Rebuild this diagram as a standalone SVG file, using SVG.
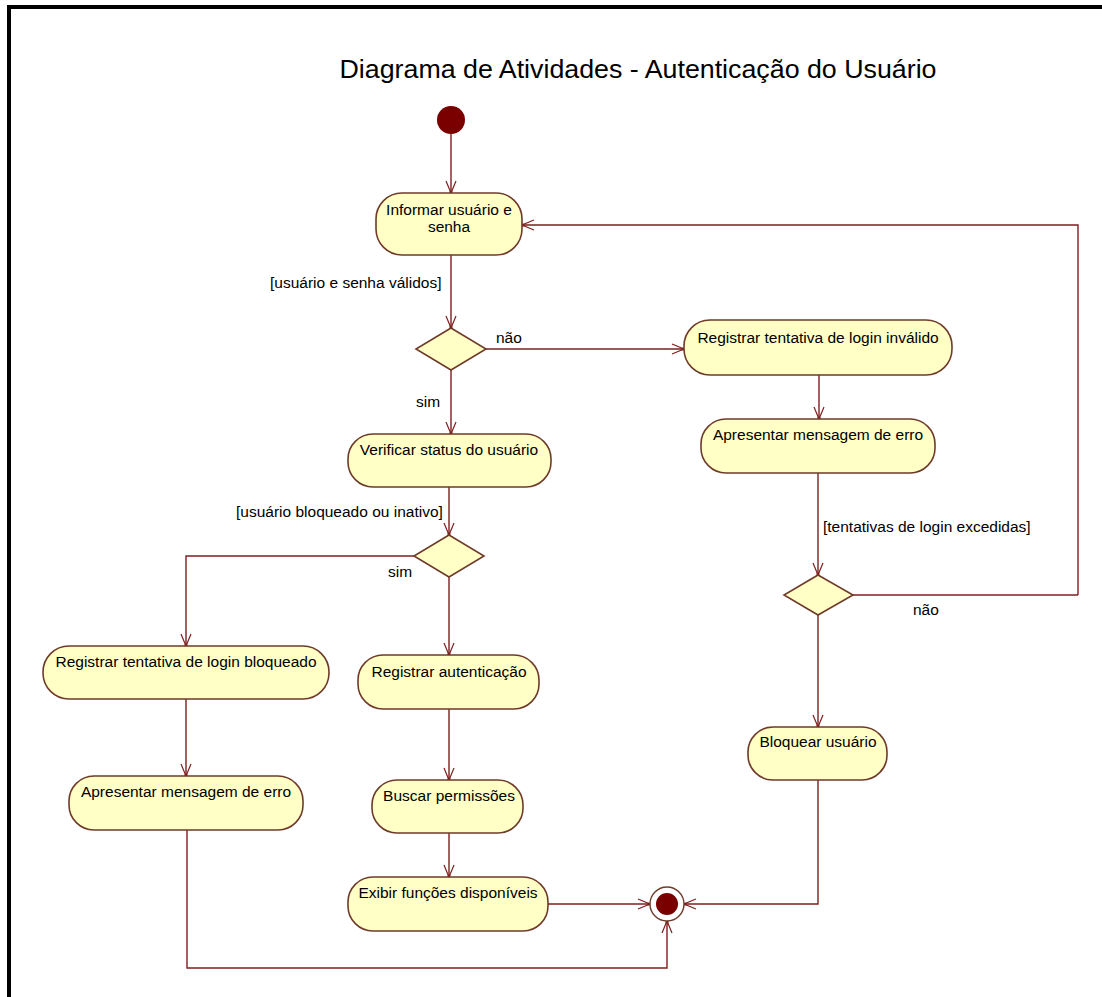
<svg xmlns="http://www.w3.org/2000/svg" width="1102" height="997" viewBox="0 0 1102 997">
<style>
.node rect{fill:#ffffc6;stroke:#6e3b2a;stroke-width:1.6}
.node polygon{fill:#ffffc6;stroke:#6e3b2a;stroke-width:1.6}
.t{font-family:"Liberation Sans",Arial,sans-serif;font-size:15.5px;fill:#000;text-anchor:middle}
.lbl{font-family:"Liberation Sans",Arial,sans-serif;font-size:15.5px;fill:#000}
.c path{fill:none;stroke:#7e1f1f;stroke-width:1.4}
</style>
<defs>
<marker id="arr" viewBox="0 0 14 12" refX="13" refY="6" markerWidth="14" markerHeight="12" markerUnits="userSpaceOnUse" orient="auto">
<path d="M1,1 L13,6 L1,11" fill="none" stroke="#7e1f1f" stroke-width="1.2"/>
<circle cx="12" cy="6" r="1.6" fill="#7e1f1f"/>
</marker>
</defs>
<rect width="1102" height="997" fill="#fff"/>
<path d="M9,997 V7 H1102" fill="none" stroke="#000" stroke-width="4"/>
<text x="638" y="78" font-family="'Liberation Sans',Arial,sans-serif" font-size="25" text-anchor="middle" textLength="597" lengthAdjust="spacingAndGlyphs">Diagrama de Atividades - Autenticação do Usuário</text>

<g class="c" id="connectors">
<path d="M451,134 V193" marker-end="url(#arr)"/>
<path d="M1078,595 V225 H522" marker-end="url(#arr)"/>
<path d="M853,595 H1078"/>
<path d="M451,255 V328" marker-end="url(#arr)"/>
<path d="M486,349 H684" marker-end="url(#arr)"/>
<path d="M819,375 V419" marker-end="url(#arr)"/>
<path d="M818,473 V575" marker-end="url(#arr)"/>
<path d="M818,615 V727" marker-end="url(#arr)"/>
<path d="M818,780 V904 H684" marker-end="url(#arr)"/>
<path d="M451,370 V434" marker-end="url(#arr)"/>
<path d="M449,487 V535" marker-end="url(#arr)"/>
<path d="M414,556 H186 V646" marker-end="url(#arr)"/>
<path d="M449,577 V655" marker-end="url(#arr)"/>
<path d="M186,699 V776" marker-end="url(#arr)"/>
<path d="M449,709 V780" marker-end="url(#arr)"/>
<path d="M449,833 V877" marker-end="url(#arr)"/>
<path d="M548,904 H650" marker-end="url(#arr)"/>
<path d="M187,830 V968 H667 V921" marker-end="url(#arr)"/>
</g>

<text class="lbl" x="270" y="288">[usuário e senha válidos]</text>
<text class="lbl" x="496" y="343">não</text>
<text class="lbl" x="416" y="407">sim</text>
<text class="lbl" x="823" y="532">[tentativas de login excedidas]</text>
<text class="lbl" x="913" y="615">não</text>
<text class="lbl" x="236" y="517">[usuário bloqueado ou inativo]</text>
<text class="lbl" x="388" y="577">sim</text>

<g id="start"><circle cx="451" cy="120" r="14" fill="#7a0000"/></g>
<g id="final"><circle cx="667" cy="904" r="17" fill="#fff" stroke="#6e3b2a" stroke-width="1.4"/><circle cx="667" cy="904" r="11" fill="#7a0000"/></g>

<g class="node" id="n_informar"><rect x="376" y="193" width="146" height="62" rx="26"/><text class="t" x="449" y="215">Informar usuário e</text><text class="t" x="449" y="232">senha</text></g>
<g class="node" id="d1"><polygon points="451,328 486,349 451,370 416,349"/></g>
<g class="node" id="n_reg_invalido"><rect x="684" y="320" width="268" height="55" rx="26"/><text class="t" x="818" y="343">Registrar tentativa de login inválido</text></g>
<g class="node" id="n_apres_erro1"><rect x="701" y="419" width="234" height="54" rx="25"/><text class="t" x="818" y="440">Apresentar mensagem de erro</text></g>
<g class="node" id="d2"><polygon points="818,575 853,595 818,615 784,595"/></g>
<g class="node" id="n_bloquear"><rect x="748" y="727" width="139" height="53" rx="25"/><text class="t" x="818" y="747">Bloquear usuário</text></g>
<g class="node" id="n_verificar"><rect x="348" y="434" width="203" height="53" rx="25"/><text class="t" x="449" y="455">Verificar status do usuário</text></g>
<g class="node" id="d3"><polygon points="449,535 484,556 449,577 414,556"/></g>
<g class="node" id="n_reg_bloq"><rect x="43" y="646" width="286" height="53" rx="26"/><text class="t" x="186" y="667">Registrar tentativa de login bloqueado</text></g>
<g class="node" id="n_reg_aut"><rect x="358" y="655" width="181" height="54" rx="25"/><text class="t" x="449" y="677">Registrar autenticação</text></g>
<g class="node" id="n_apres_erro2"><rect x="69" y="776" width="234" height="54" rx="25"/><text class="t" x="186" y="797">Apresentar mensagem de erro</text></g>
<g class="node" id="n_buscar"><rect x="372" y="780" width="151" height="53" rx="25"/><text class="t" x="449" y="801">Buscar permissões</text></g>
<g class="node" id="n_exibir"><rect x="348" y="877" width="200" height="54" rx="25"/><text class="t" x="448" y="898">Exibir funções disponíveis</text></g>
</svg>
